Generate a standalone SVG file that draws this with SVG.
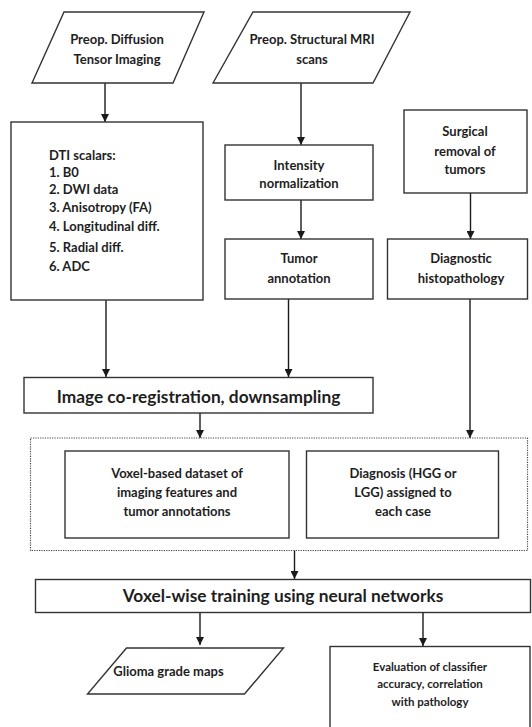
<svg xmlns="http://www.w3.org/2000/svg" width="532" height="727" viewBox="0 0 532 727">
<defs>
<marker id="arr" viewBox="0 0 10 10" refX="10" refY="5" markerWidth="8" markerHeight="8" markerUnits="userSpaceOnUse" orient="auto">
<path d="M0,0 L10,5 L0,10 Z" fill="#1a1a1a"/>
</marker>
<style>
.box{fill:#fff;stroke:#333;stroke-width:1.4}
.dot{fill:none;stroke:#444;stroke-width:1.2;stroke-dasharray:1.2 1.2}
.t{font-family:Lato,"Liberation Sans",sans-serif;font-weight:bold;font-size:13px;fill:#1e1e1e;text-anchor:middle}
.tl{text-anchor:start}
.big{font-size:17.3px}
.sm{font-size:11.5px}
.c{stroke:#1a1a1a;stroke-width:1.4;fill:none;marker-end:url(#arr)}
</style>
</defs>
<rect width="532" height="727" fill="#fff"/>
<g id="connectors">
<line class="c" x1="105" y1="83" x2="105" y2="122"/>
<line class="c" x1="301" y1="83" x2="301" y2="145"/>
<line class="c" x1="301" y1="200" x2="301" y2="239"/>
<line class="c" x1="470.5" y1="193" x2="470.5" y2="239"/>
<line class="c" x1="106" y1="300" x2="106" y2="377"/>
<line class="c" x1="288.5" y1="299" x2="288.5" y2="377"/>
<line class="c" x1="200" y1="413" x2="200" y2="438"/>
<line class="c" x1="470" y1="299" x2="470" y2="438"/>
<line class="c" x1="294.5" y1="550.5" x2="294.5" y2="579"/>
<line class="c" x1="200" y1="612.5" x2="200" y2="645"/>
<line class="c" x1="423" y1="612.5" x2="423" y2="646"/>
</g>
<g id="dti-input">
<polygon class="box" points="64,12 204,12 173,83 32,83"/>
<text class="t" x="117" y="43.5">Preop. Diffusion</text>
<text class="t" x="117" y="63.5">Tensor Imaging</text>
</g>
<g id="mri-input">
<polygon class="box" points="253,12 410,12 373,83 213,83"/>
<text class="t" x="312" y="43.5">Preop. Structural MRI</text>
<text class="t" x="312" y="63.5">scans</text>
</g>
<g id="dti-scalars">
<rect class="box" x="11" y="122" width="192" height="178"/>
<text class="t tl" x="49" y="159.5">DTI scalars:</text>
<text class="t tl" x="49" y="176.5">1. B0</text>
<text class="t tl" x="49" y="193.5">2. DWI data</text>
<text class="t tl" x="49" y="212">3. Anisotropy (FA)</text>
<text class="t tl" x="49" y="231">4. Longitudinal diff.</text>
<text class="t tl" x="49" y="251.5">5. Radial diff.</text>
<text class="t tl" x="49" y="270.5">6. ADC</text>
</g>
<g id="intensity">
<rect class="box" x="225" y="145" width="148" height="55"/>
<text class="t" x="299" y="169.5">Intensity</text>
<text class="t" x="299" y="187.5">normalization</text>
</g>
<g id="surgical">
<rect class="box" x="404" y="110" width="123" height="83"/>
<text class="t" x="465" y="135.5">Surgical</text>
<text class="t" x="465" y="155.5">removal of</text>
<text class="t" x="465" y="173.5">tumors</text>
</g>
<g id="tumor">
<rect class="box" x="225" y="239" width="148" height="60"/>
<text class="t" x="299" y="263">Tumor</text>
<text class="t" x="299" y="282.5">annotation</text>
</g>
<g id="histopath">
<rect class="box" x="387.5" y="239" width="140" height="60"/>
<text class="t" x="461" y="263">Diagnostic</text>
<text class="t" x="461" y="282.5">histopathology</text>
</g>
<g id="coreg">
<rect class="box" x="24" y="377.5" width="349" height="35.5"/>
<text class="t big" x="198.5" y="402.8">Image co-registration, downsampling</text>
</g>
<g id="dataset-group">
<rect class="dot" x="30.5" y="438" width="497" height="112.5"/>
</g>
<g id="voxel-dataset">
<rect class="box" x="65" y="451" width="224" height="87"/>
<text class="t" x="177" y="477.8">Voxel-based dataset of</text>
<text class="t" x="177" y="497.3">imaging features and</text>
<text class="t" x="177" y="515.8">tumor annotations</text>
</g>
<g id="diagnosis">
<rect class="box" x="306.5" y="451" width="192" height="87"/>
<text class="t" x="403" y="477.8">Diagnosis (HGG or</text>
<text class="t" x="403" y="497.3">LGG) assigned to</text>
<text class="t" x="403" y="515.8">each case</text>
</g>
<g id="training">
<rect class="box" x="35.5" y="579.5" width="495" height="33"/>
<text class="t big" x="283" y="601.5">Voxel-wise training using neural networks</text>
</g>
<g id="glioma-maps">
<polygon class="box" points="126.5,648 283.5,648 244.5,694 87.5,694"/>
<text class="t" x="168.5" y="675.5">Glioma grade maps</text>
</g>
<g id="evaluation">
<rect class="box" x="330" y="646.5" width="200" height="90"/>
<text class="t sm" x="430" y="670.8">Evaluation of classifier</text>
<text class="t sm" x="430" y="687.8">accuracy, correlation</text>
<text class="t sm" x="430" y="705.8">with pathology</text>
</g>
</svg>
